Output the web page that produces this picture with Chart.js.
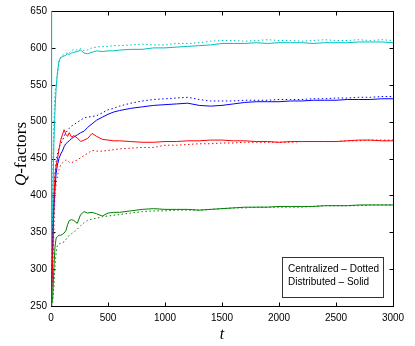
<!DOCTYPE html>
<html>
<head>
<meta charset="utf-8">
<script src="https://cdn.jsdelivr.net/npm/chart.js@4.4.0/dist/chart.umd.min.js"></script>
<style>
  html, body { margin: 0; padding: 0; background: #fff; }
  #wrap { width: 415px; height: 346px; }
</style>
</head>
<body>
<div id="wrap"><canvas id="qChart"></canvas></div>
<script>
// time steps (x) shared by every series
const tSteps = [0, 5, 15, 25, 35, 45, 55, 70, 85, 100, 115, 130, 145, 160, 180, 200, 230, 260, 290, 320,
  360, 400, 450, 500, 550, 600, 700, 800, 900, 1000, 1100, 1200, 1300, 1400, 1500, 1600, 1700, 1800, 1900, 2000,
  2100, 2200, 2300, 2400, 2500, 2600, 2700, 2800, 2900, 3000];

// Q-factors (solid = distributed, dotted = centralized)
const cyanSolid = [650, 255, 380, 470, 515, 545, 565, 582, 587, 588, 589, 590, 592, 591, 593, 594, 595, 597, 593, 592,
  594, 596, 595, 596, 596, 597, 598, 598, 600, 600, 601, 602, 603, 604, 606, 606, 606, 607, 606, 607,
  607, 607, 606, 607, 607, 607, 608, 608, 608, 607];
const cyanDotted = [250, 330, 430, 500, 540, 548, 560, 580, 588, 590, 591, 592, 594, 593, 596, 598, 597, 599, 596, 597,
  600, 601, 602, 602, 603, 603, 604, 605, 604, 604, 606, 606, 607, 609, 610, 610, 609, 610, 611, 610,
  610, 609, 610, 611, 610, 610, 611, 610, 611, 610];
const blueSolid = [250, 270, 330, 380, 410, 430, 440, 450, 456, 460, 466, 470, 472, 474, 477, 479, 482, 485, 487, 492,
  497, 502, 506, 510, 513, 515, 518, 520, 522, 523, 524, 525, 522, 521, 522, 524, 526, 527, 527, 527,
  528, 528, 529, 529, 529, 530, 530, 530, 531, 531];
const blueDotted = [250, 280, 350, 400, 430, 445, 455, 465, 470, 474, 480, 485, 488, 491, 494, 496, 499, 502, 505, 506,
  507, 508, 512, 516, 518, 521, 525, 528, 530, 531, 532, 533, 530, 528, 528, 528, 529, 529, 529, 530,
  530, 530, 531, 531, 532, 532, 533, 533, 534, 534];
const redSolid = [250, 265, 320, 390, 425, 440, 448, 462, 475, 482, 489, 483, 480, 485, 479, 481, 478, 473, 475, 477,
  484, 480, 476, 475, 474, 474, 473, 472, 472, 473, 473, 474, 474, 475, 475, 474, 474, 473, 473, 472,
  473, 473, 473, 473, 473, 474, 475, 475, 474, 474];
const redDotted = [250, 260, 290, 350, 400, 415, 425, 435, 441, 444, 446, 448, 447, 445, 444, 446, 448, 451, 454, 457,
  461, 460, 460, 461, 462, 463, 464, 465, 465, 468, 468, 469, 470, 470, 471, 471, 472, 472, 472, 472,
  472, 473, 473, 473, 473, 474, 474, 475, 475, 475];
const greenSolid = [250, 252, 262, 300, 330, 342, 344, 346, 346, 347, 349, 352, 360, 366, 367, 366, 362, 374, 378, 376,
  377, 375, 372, 376, 377, 377, 379, 381, 382, 381, 381, 381, 380, 381, 382, 383, 384, 384, 384, 385,
  385, 385, 385, 386, 386, 386, 387, 387, 387, 387];
const greenDotted = [250, 250, 255, 275, 305, 322, 332, 334, 335, 336, 337, 340, 343, 346, 348, 350, 354, 359, 363, 366,
  368, 369, 371, 372, 373, 374, 376, 378, 379, 379, 380, 380, 380, 381, 382, 383, 383, 384, 384, 384,
  384, 384, 385, 386, 386, 386, 386, 387, 387, 387];

const xTicks = [0, 500, 1000, 1500, 2000, 2500, 3000];
const yTicks = [250, 300, 350, 400, 450, 500, 550, 600, 650];
const legendLines = ['Centralized \u2013 Dotted', 'Distributed \u2013 Solid'];

const CYAN = '#00bfbf', BLUE = '#0000ff', RED = '#ff0000', GREEN = '#008000';

function pts(vals) {
  return vals.map((v, i) => ({ x: tSteps[i], y: v }));
}
function ds(vals, color, dotted) {
  return {
    data: pts(vals),
    borderColor: color,
    borderWidth: 1,
    borderDash: dotted ? [1.5, 2.5] : [],
    pointRadius: 0,
    tension: 0,
    fill: false
  };
}

// matlab style: box + inward ticks under the lines, titles and text box on top
const matlabFrame = {
  id: 'matlabFrame',
  beforeDatasetsDraw(chart) {
    const { ctx, chartArea: a, scales } = chart;
    const L = Math.round(a.left) + 0.5, R = Math.round(a.right) + 0.5;
    const T = Math.round(a.top) + 0.5, B = Math.round(a.bottom) + 0.5;
    ctx.save();
    ctx.strokeStyle = '#000';
    ctx.lineWidth = 1;
    ctx.strokeRect(L, T, R - L, B - T);
    ctx.beginPath();
    xTicks.forEach(v => {
      const px = Math.round(scales.x.getPixelForValue(v)) + 0.5;
      ctx.moveTo(px, B); ctx.lineTo(px, B - 4);
      ctx.moveTo(px, T); ctx.lineTo(px, T + 4);
    });
    yTicks.forEach(v => {
      const py = Math.round(scales.y.getPixelForValue(v)) + 0.5;
      ctx.moveTo(L, py); ctx.lineTo(L + 4, py);
      ctx.moveTo(R, py); ctx.lineTo(R - 4, py);
    });
    ctx.stroke();
    ctx.restore();
  },
  afterDraw(chart) {
    const { ctx, chartArea: a } = chart;
    ctx.save();
    // x title
    ctx.fillStyle = '#000';
    ctx.textAlign = 'center';
    ctx.textBaseline = 'alphabetic';
    ctx.font = 'italic 16px "Liberation Serif"';
    ctx.fillText('t', (a.left + a.right) / 2, 339);

    // y title: italic Q, upright rest
    ctx.save();
    ctx.translate(26, 154);
    ctx.rotate(-Math.PI / 2);
    ctx.font = 'italic 17px "Liberation Serif"';
    const wQ = ctx.measureText('Q').width;
    ctx.font = '17px "Liberation Serif"';
    const wRest = ctx.measureText('-factors').width;
    const x0 = -(wQ + wRest) / 2;
    ctx.textAlign = 'left';
    ctx.font = 'italic 17px "Liberation Serif"';
    ctx.fillText('Q', x0, 0);
    ctx.font = '17px "Liberation Serif"';
    ctx.fillText('-factors', x0 + wQ, 0);
    ctx.restore();

    // text box
    const bx = Math.round(a.right - 111) + 0.5, by = Math.round(a.bottom - 49) + 0.5;
    ctx.fillStyle = '#fff';
    ctx.fillRect(bx, by, 101, 40);
    ctx.strokeStyle = '#333';
    ctx.strokeRect(bx, by, 101, 40);
    ctx.fillStyle = '#000';
    ctx.textAlign = 'left';
    ctx.font = '10px "Liberation Sans"';
    ctx.fillText(legendLines[0], bx + 5.5, by + 14);
    ctx.fillText(legendLines[1], bx + 5.5, by + 27);
    ctx.restore();
  }
};

new Chart(document.getElementById('qChart'), {
  type: 'line',
  data: {
    datasets: [
      ds(greenDotted, GREEN, true), ds(greenSolid, GREEN, false),
      ds(redDotted, RED, true), ds(redSolid, RED, false),
      ds(blueDotted, BLUE, true), ds(blueSolid, BLUE, false),
      ds(cyanDotted, CYAN, true), ds(cyanSolid, CYAN, false)
    ]
  },
  options: {
    responsive: true,
    maintainAspectRatio: false,
    animation: false,
    layout: { padding: { top: 11, right: 22, left: 0, bottom: 0 } },
    plugins: { legend: { display: false }, tooltip: { enabled: false } },
    scales: {
      x: {
        type: 'linear', min: 0, max: 3000,
        afterBuildTicks: s => { s.ticks = xTicks.map(v => ({ value: v })); },
        afterFit: s => { s.height = 40; },
        grid: { display: false, drawTicks: false },
        border: { display: false },
        ticks: { color: '#000', padding: 6, maxRotation: 0, callback: v => String(v),
          font: { family: 'Liberation Sans', size: 10 } }
      },
      y: {
        min: 250, max: 650,
        afterBuildTicks: s => { s.ticks = yTicks.map(v => ({ value: v })); },
        afterFit: s => { s.width = 51; },
        grid: { display: false, drawTicks: false },
        border: { display: false },
        ticks: { color: '#000', padding: 4, callback: v => String(v),
          font: { family: 'Liberation Sans', size: 10 } }
      }
    }
  },
  plugins: [matlabFrame]
});
</script>
</body>
</html>
